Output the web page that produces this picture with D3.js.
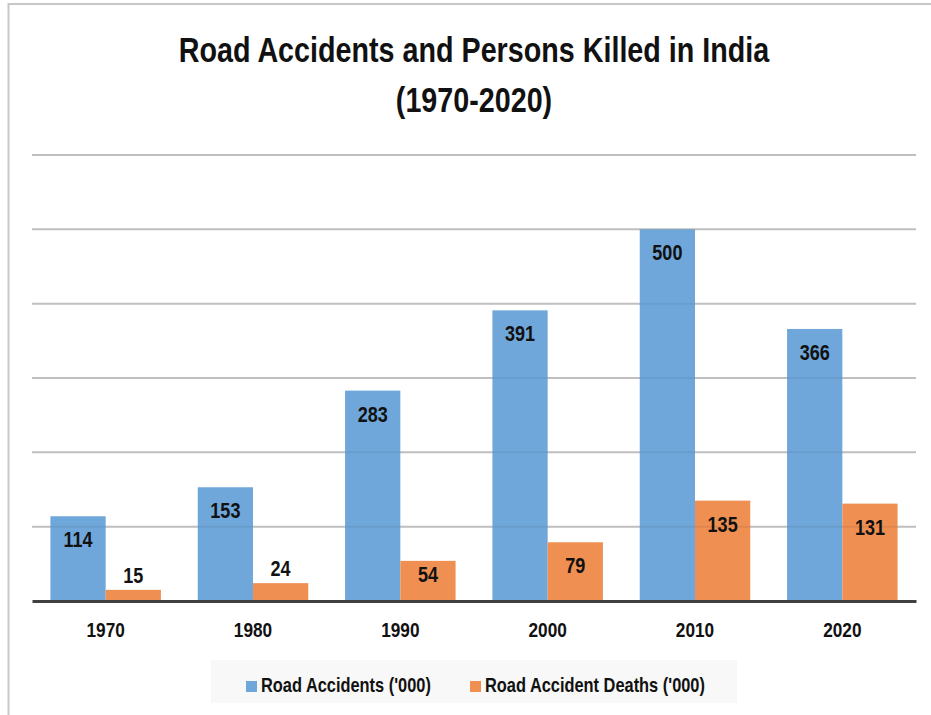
<!DOCTYPE html>
<html>
<head>
<meta charset="utf-8">
<script src="https://cdn.jsdelivr.net/npm/d3@7"></script>
<style>
  body { margin: 0; background: #fff; }
  svg text { font-family: "Liberation Sans", Arial, sans-serif; font-weight: bold; fill: #111; }
</style>
</head>
<body>
<div id="chart"></div>
<script>
var years = ["1970", "1980", "1990", "2000", "2010", "2020"];
var accidents = [114, 153, 283, 391, 500, 366];
var deaths = [15, 24, 54, 79, 135, 131];
var seriesNames = ["Road Accidents ('000)", "Road Accident Deaths ('000)"];
var colors = ["#6fa7da", "#ef8f52"];
var yTicks = [0, 100, 200, 300, 400, 500, 600];

var W = 931, H = 715;
var x0 = 32, x1 = 916, yBase = 601, yTop = 155;
var narrow = 0.82; // squeeze Liberation Sans to a narrow face

function at(px, py) {
    return "translate(" + px + "," + py + ") scale(" + narrow + ",1)";
}

var svg = d3.select("#chart")
    .append("svg")
    .attr("width", W)
    .attr("height", H);

// outer frame (only top and left visible)
svg.append("rect")
    .attr("x", 8.5).attr("y", 4)
    .attr("width", 960).attr("height", 760)
    .attr("fill", "none")
    .attr("stroke", "#c8c8c8")
    .attr("stroke-width", 2);

// title
svg.append("text")
    .attr("transform", at(474, 62))
    .attr("text-anchor", "middle")
    .style("font-size", "35px")
    .text("Road Accidents and Persons Killed in India");
svg.append("text")
    .attr("transform", at(474, 112))
    .attr("text-anchor", "middle")
    .style("font-size", "35px")
    .text("(1970-2020)");

var x = d3.scaleBand()
    .domain(years)
    .range([x0, x1])
    .paddingInner(0.25)
    .paddingOuter(0.125);

var xs = d3.scaleBand()
    .domain([0, 1])
    .range([0, x.bandwidth()]);

var y = d3.scaleLinear()
    .domain([0, 600])
    .range([yBase, yTop]);

// gridlines
svg.append("g")
    .selectAll("line")
    .data(yTicks.slice(1))
    .enter()
    .append("line")
    .attr("x1", x0).attr("x2", x1)
    .attr("y1", function (d) { return y(d); })
    .attr("y2", function (d) { return y(d); })
    .attr("stroke", "#cbcbcb")
    .attr("stroke-width", 2);

var rows = years.map(function (yr, i) {
    return { year: yr, values: [accidents[i], deaths[i]] };
});

var groups = svg.append("g")
    .selectAll("g")
    .data(rows)
    .enter()
    .append("g")
    .attr("transform", function (d) { return "translate(" + x(d.year) + ",0)"; });

groups.selectAll("rect")
    .data(function (d) { return d.values.map(function (v, k) { return { k: k, v: v }; }); })
    .enter()
    .append("rect")
    .attr("x", function (d) { return xs(d.k); })
    .attr("width", xs.bandwidth())
    .attr("y", function (d) { return y(d.v); })
    .attr("height", function (d) { return yBase - y(d.v); })
    .attr("fill", function (d) { return colors[d.k]; });

// faint gridline showing through the bars
svg.append("g")
    .selectAll("line")
    .data(yTicks.slice(1))
    .enter()
    .append("line")
    .attr("x1", x0).attr("x2", x1)
    .attr("y1", function (d) { return y(d); })
    .attr("y2", function (d) { return y(d); })
    .attr("stroke", "#000")
    .attr("stroke-opacity", 0.06)
    .attr("stroke-width", 2);

// value labels
groups.selectAll("text")
    .data(function (d) { return d.values.map(function (v, k) { return { k: k, v: v }; }); })
    .enter()
    .append("text")
    .attr("transform", function (d) {
        var top = y(d.v), h = yBase - top;
        var ty = h < 30 ? top - 7 : Math.min(top + 31, yBase - 19);
        return at(xs(d.k) + xs.bandwidth() / 2, ty);
    })
    .attr("text-anchor", "middle")
    .style("font-size", "22px")
    .text(function (d) { return d.v; });

// x axis
var xAxis = svg.append("g")
    .attr("transform", "translate(0," + yBase + ")")
    .call(d3.axisBottom(x).tickSize(0).tickPadding(21));
xAxis.attr("font-family", null).attr("font-size", null);
xAxis.select(".domain")
    .attr("stroke", "#404040")
    .attr("stroke-width", 3);
xAxis.selectAll("text")
    .attr("transform", "scale(" + narrow + ",1)")
    .style("font-size", "21px")
    .attr("fill", "#111");

// legend
svg.append("rect")
    .attr("x", 211).attr("y", 660)
    .attr("width", 526).attr("height", 43)
    .attr("fill", "#f8f8f8");

var legendX = [246, 470];
var legend = svg.append("g")
    .selectAll("g")
    .data(seriesNames)
    .enter()
    .append("g")
    .attr("transform", function (d, i) { return "translate(" + legendX[i] + ",0)"; });
legend.append("rect")
    .attr("x", 0).attr("y", 681)
    .attr("width", 11).attr("height", 11)
    .attr("fill", function (d, i) { return colors[i]; });
legend.append("text")
    .attr("transform", at(15, 692))
    .style("font-size", "20px")
    .text(function (d) { return d; });
</script>
</body>
</html>
